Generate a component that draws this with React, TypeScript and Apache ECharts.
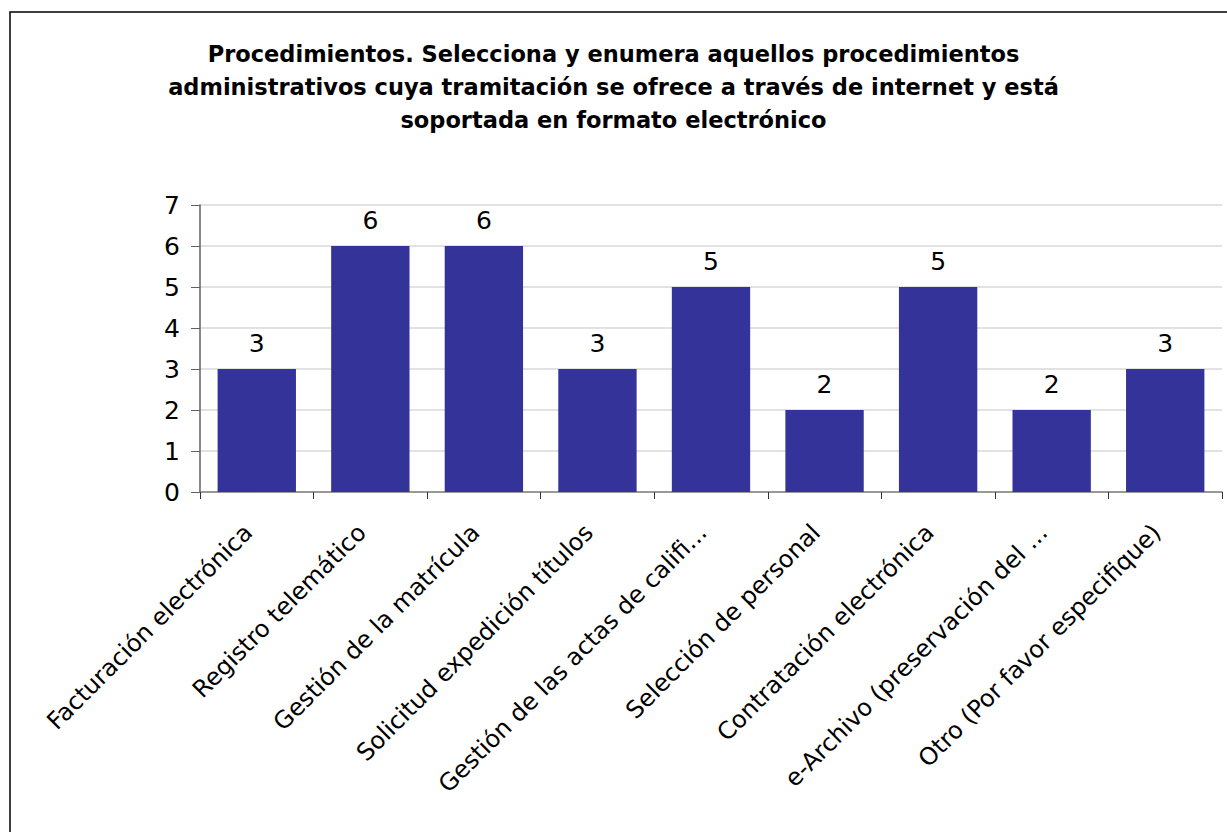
import React, { useEffect, useRef } from "react";
import * as echarts from "echarts";

const titleText =
  "Procedimientos. Selecciona y enumera aquellos procedimientos\nadministrativos cuya tramitación se ofrece a través de internet y está\nsoportada en formato electrónico";

const categories = [
  "Facturación electrónica",
  "Registro telemático",
  "Gestión de la matrícula",
  "Solicitud expedición títulos",
  "Gestión de las actas de califi...",
  "Selección de personal",
  "Contratación electrónica",
  "e-Archivo (preservación del ...",
  "Otro (Por favor especifique)",
];

const values = [3, 6, 6, 3, 5, 2, 5, 2, 3];

const FONT = "'DejaVu Sans', Verdana, sans-serif";

export default function App() {
  const ref = useRef<HTMLDivElement>(null);
  useEffect(() => {
    if (!ref.current) return;
    const chart = echarts.init(ref.current, undefined, { renderer: "svg" });
    chart.setOption({
      animation: false,
      backgroundColor: "#ffffff",
      textStyle: { fontFamily: FONT },
      title: {
        text: titleText,
        left: "center",
        top: 32,
        textStyle: {
          fontFamily: FONT,
          fontSize: 22.5,
          fontWeight: "bold",
          color: "#000",
          lineHeight: 33,
        },
      },
      graphic: [
        {
          type: "rect",
          shape: { x: 10, y: 12, width: 1240, height: 840 },
          style: { fill: "none", stroke: "#000", lineWidth: 1.5 },
          silent: true,
        },
      ],
      grid: { left: 200, right: 5, top: 205, bottom: 340, containLabel: false },
      xAxis: {
        type: "category",
        data: categories,
        axisLine: { show: true, lineStyle: { color: "#808080", width: 1.5 } },
        axisTick: { show: true, alignWithLabel: false, length: 7, lineStyle: { color: "#333" } },
        axisLabel: {
          interval: 0,
          rotate: 45,
          margin: 45,
          fontSize: 24,
          color: "#000",
          fontFamily: FONT,
          verticalAlign: "bottom",
        },
      },
      yAxis: {
        type: "value",
        min: 0,
        max: 7,
        interval: 1,
        axisLine: { show: true, lineStyle: { color: "#606060", width: 1.5 } },
        axisTick: { show: true, length: 9, lineStyle: { color: "#606060" } },
        axisLabel: { fontSize: 25, color: "#000", margin: 20, fontFamily: FONT },
        splitLine: { show: true, lineStyle: { color: "#d9d9d9", width: 1.5 } },
      },
      series: [
        {
          type: "bar",
          data: values,
          barCategoryGap: "31%",
          itemStyle: { color: "#333399" },
          label: {
            show: true,
            position: "top",
            distance: 13,
            fontSize: 25,
            color: "#000",
            fontFamily: FONT,
          },
        },
      ],
    });
    return () => chart.dispose();
  }, []);
  return (
    <div
      ref={ref}
      style={{ position: "absolute", left: 0, top: 0, width: 1227, height: 832 }}
    />
  );
}
